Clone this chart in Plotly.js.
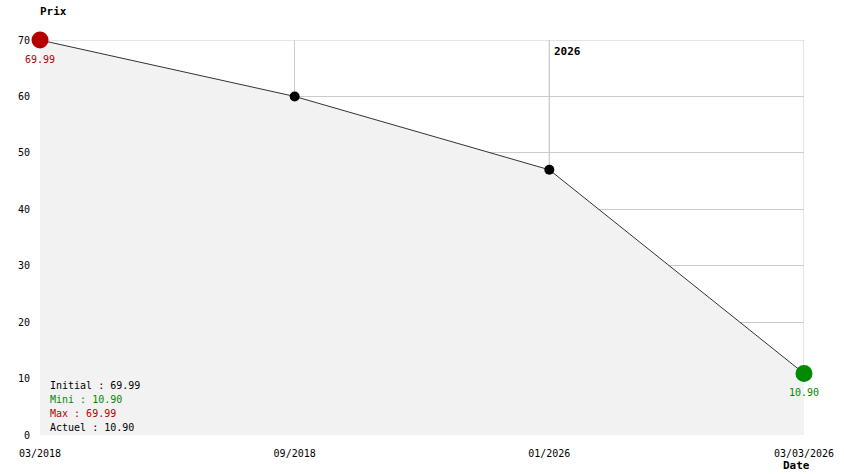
<!DOCTYPE html>
<html><head><meta charset="utf-8">
<script src="https://cdn.plot.ly/plotly-3.0.1.min.js"></script>
<style>html,body{margin:0;padding:0;background:#fff}</style>
</head><body>
<div id="chart" style="width:844px;height:474px"></div>
<script>
const dates = ['03/2018', '09/2018', '01/2026', '03/03/2026'];
const prices = [69.99, 60, 47, 10.90];
const markerColors = ['#b40000', '#000000', '#000000', '#008a00'];
const markerSizes = [17, 10, 10, 17];
const yearMarkerIndex = 2;
const yearMarkerLabel = '2026';
const initialPrice = 69.99, minPrice = 10.90, maxPrice = 69.99, currentPrice = 10.90;

const F = 'DejaVu Sans Mono, monospace';
const fmt = v => v.toFixed(2);

const lineTrace = {
  x: dates, y: prices, type: 'scatter', mode: 'lines',
  fill: 'tozeroy', fillcolor: '#f2f2f2',
  line: {color: '#333333', width: 1},
  hoverinfo: 'skip'
};
const markerTrace = {
  x: dates, y: prices, type: 'scatter', mode: 'markers',
  marker: {color: markerColors, size: markerSizes, opacity: 1, line: {width: 0}},
  hoverinfo: 'skip', cliponaxis: false
};

const layout = {
  width: 844, height: 474,
  margin: {l: 40, r: 40, t: 40, b: 39},
  paper_bgcolor: '#ffffff', plot_bgcolor: '#ffffff',
  showlegend: false,
  font: {family: F, size: 10, color: '#000'},
  xaxis: {type: 'category', range: [0, dates.length - 1], showgrid: true, gridcolor: '#cccccc',
          zeroline: false, showline: false, ticks: '', tickfont: {family: F, size: 10, color: '#000'},
          ticklabelstandoff: 11, fixedrange: true},
  yaxis: {range: [0, 70], dtick: 10, showgrid: true, gridcolor: '#cccccc', zeroline: false,
          showline: false, ticks: '', tickfont: {family: F, size: 10, color: '#000'}, ticklabelstandoff: 9},
  shapes: [
    {type: 'line', xref: 'paper', yref: 'y', x0: 0, x1: 1, y0: 70, y1: 70,
     line: {color: '#cccccc', width: 1}, layer: 'below'},
    {type: 'line', xref: 'x', yref: 'y', x0: dates[dates.length - 1], x1: dates[dates.length - 1], y0: 0, y1: 70,
     line: {color: '#cccccc', width: 1}, layer: 'below'},
    {type: 'line', xref: 'x', yref: 'y', x0: dates[yearMarkerIndex], x1: dates[yearMarkerIndex],
     y0: prices[yearMarkerIndex], y1: 70, line: {color: '#999999', width: 1}, layer: 'below'}
  ],
  annotations: [
    {xref: 'paper', yref: 'paper', x: 0, y: 1, xshift: -2, yshift: 29, xanchor: 'left', yanchor: 'middle',
     text: '<b>Prix</b>', showarrow: false, font: {family: F, size: 11}},
    {xref: 'paper', yref: 'paper', x: 1, y: 0, xshift: 8, yshift: -30, xanchor: 'right', yanchor: 'middle',
     text: '<b>Date</b>', showarrow: false, font: {family: F, size: 11}},
    {xref: 'x', yref: 'y', x: dates[yearMarkerIndex], y: 70, xshift: 3, yshift: -11, xanchor: 'left', yanchor: 'middle',
     text: '<b>' + yearMarkerLabel + '</b>', showarrow: false, font: {family: F, size: 11}},
    {xref: 'x', yref: 'y', x: dates[0], y: prices[0], yshift: -19, xanchor: 'center', yanchor: 'middle',
     text: fmt(prices[0]), showarrow: false, font: {family: F, size: 10, color: '#b40000'}},
    {xref: 'x', yref: 'y', x: dates[3], y: prices[3], yshift: -19, xanchor: 'center', yanchor: 'middle',
     text: fmt(prices[3]), showarrow: false, font: {family: F, size: 10, color: '#008a00'}},
    {xref: 'paper', yref: 'paper', x: 0, y: 0, xshift: 8, yshift: 50, xanchor: 'left', yanchor: 'middle',
     text: 'Initial : ' + fmt(initialPrice), showarrow: false, font: {family: F, size: 10, color: '#000'}},
    {xref: 'paper', yref: 'paper', x: 0, y: 0, xshift: 8, yshift: 36, xanchor: 'left', yanchor: 'middle',
     text: 'Mini : ' + fmt(minPrice), showarrow: false, font: {family: F, size: 10, color: '#008a00'}},
    {xref: 'paper', yref: 'paper', x: 0, y: 0, xshift: 8, yshift: 22, xanchor: 'left', yanchor: 'middle',
     text: 'Max : ' + fmt(maxPrice), showarrow: false, font: {family: F, size: 10, color: '#b40000'}},
    {xref: 'paper', yref: 'paper', x: 0, y: 0, xshift: 8, yshift: 8, xanchor: 'left', yanchor: 'middle',
     text: 'Actuel : ' + fmt(currentPrice), showarrow: false, font: {family: F, size: 10, color: '#000'}}
  ]
};

Plotly.newPlot('chart', [lineTrace, markerTrace], layout, {displayModeBar: false, staticPlot: true});
</script>
</body></html>
